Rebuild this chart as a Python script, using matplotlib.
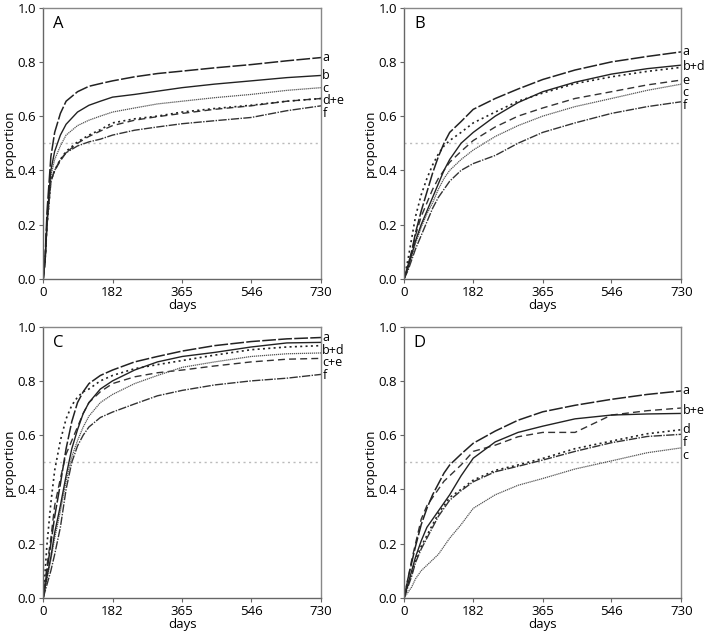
import numpy as np
import matplotlib
matplotlib.use("Agg")
import matplotlib.pyplot as plt

plt.rcParams['font.family'] = ['Open Sans', 'DejaVu Sans']

# sample days (shared by all panels)
days = [0, 5, 10, 20, 30, 45, 60, 90, 120, 150, 182, 240, 300, 365, 450, 546, 640, 730]
days_slow = [0, 10, 20, 30, 45, 60, 75, 90, 105, 120, 150, 182, 240, 300, 365, 450, 546, 640, 730]

# panel A
A_a = [0, 0.08, 0.25, 0.45, 0.54, 0.61, 0.655, 0.69, 0.71, 0.72, 0.73, 0.745, 0.757, 0.766, 0.778, 0.79, 0.804, 0.816]
A_b = [0, 0.07, 0.22, 0.40, 0.47, 0.53, 0.57, 0.615, 0.64, 0.655, 0.67, 0.68, 0.692, 0.705, 0.718, 0.73, 0.742, 0.75]
A_c = [0, 0.07, 0.21, 0.38, 0.44, 0.49, 0.53, 0.565, 0.585, 0.60, 0.615, 0.63, 0.645, 0.655, 0.668, 0.68, 0.695, 0.705]
A_d = [0, 0.07, 0.20, 0.36, 0.40, 0.44, 0.47, 0.505, 0.53, 0.55, 0.575, 0.59, 0.60, 0.615, 0.628, 0.64, 0.655, 0.665]
A_e = [0, 0.07, 0.20, 0.36, 0.40, 0.435, 0.465, 0.50, 0.525, 0.545, 0.565, 0.585, 0.598, 0.61, 0.625, 0.638, 0.655, 0.665]
A_f = [0, 0.07, 0.20, 0.36, 0.40, 0.44, 0.465, 0.49, 0.505, 0.515, 0.53, 0.548, 0.56, 0.572, 0.583, 0.595, 0.62, 0.638]

# panel B
B_a = [0, 0.05, 0.10, 0.17, 0.25, 0.32, 0.39, 0.45, 0.50, 0.54, 0.58, 0.625, 0.665, 0.70, 0.735, 0.77, 0.80, 0.82, 0.837]
B_b = [0, 0.04, 0.09, 0.14, 0.20, 0.25, 0.30, 0.35, 0.40, 0.44, 0.50, 0.54, 0.60, 0.65, 0.69, 0.725, 0.755, 0.775, 0.788]
B_c = [0, 0.04, 0.08, 0.13, 0.19, 0.24, 0.28, 0.33, 0.37, 0.40, 0.44, 0.475, 0.525, 0.565, 0.60, 0.635, 0.665, 0.695, 0.718]
B_d = [0, 0.07, 0.15, 0.23, 0.31, 0.37, 0.42, 0.46, 0.49, 0.51, 0.54, 0.575, 0.615, 0.655, 0.685, 0.72, 0.745, 0.765, 0.78]
B_e = [0, 0.05, 0.10, 0.16, 0.23, 0.28, 0.33, 0.37, 0.40, 0.43, 0.47, 0.51, 0.56, 0.60, 0.63, 0.665, 0.69, 0.715, 0.733]
B_f = [0, 0.03, 0.07, 0.11, 0.16, 0.21, 0.26, 0.30, 0.33, 0.36, 0.40, 0.425, 0.455, 0.50, 0.54, 0.575, 0.61, 0.635, 0.653]

# panel C
C_a = [0, 0.10, 0.20, 0.30, 0.42, 0.55, 0.65, 0.72, 0.76, 0.79, 0.82, 0.84, 0.87, 0.89, 0.91, 0.93, 0.945, 0.955, 0.96]
C_b = [0, 0.08, 0.15, 0.24, 0.34, 0.45, 0.55, 0.62, 0.68, 0.72, 0.77, 0.80, 0.84, 0.87, 0.89, 0.905, 0.925, 0.94, 0.942]
C_c = [0, 0.07, 0.14, 0.22, 0.32, 0.43, 0.52, 0.58, 0.63, 0.67, 0.72, 0.75, 0.79, 0.82, 0.85, 0.87, 0.89, 0.90, 0.903]
C_d = [0, 0.20, 0.35, 0.47, 0.58, 0.66, 0.71, 0.74, 0.76, 0.77, 0.80, 0.82, 0.845, 0.86, 0.875, 0.895, 0.915, 0.925, 0.93]
C_e = [0, 0.12, 0.22, 0.34, 0.44, 0.53, 0.58, 0.63, 0.68, 0.72, 0.76, 0.79, 0.815, 0.83, 0.84, 0.855, 0.87, 0.88, 0.883]
C_f = [0, 0.05, 0.10, 0.16, 0.26, 0.40, 0.50, 0.56, 0.60, 0.63, 0.665, 0.685, 0.715, 0.745, 0.765, 0.785, 0.80, 0.81, 0.824]

# panel D
D_a = [0, 0.07, 0.13, 0.19, 0.27, 0.33, 0.38, 0.42, 0.46, 0.49, 0.53, 0.57, 0.615, 0.655, 0.686, 0.71, 0.732, 0.75, 0.763]
D_b = [0, 0.05, 0.10, 0.15, 0.21, 0.26, 0.29, 0.32, 0.35, 0.38, 0.45, 0.515, 0.575, 0.61, 0.633, 0.66, 0.674, 0.678, 0.68]
D_c = [0, 0.02, 0.04, 0.07, 0.10, 0.12, 0.14, 0.16, 0.19, 0.22, 0.27, 0.33, 0.38, 0.415, 0.44, 0.475, 0.505, 0.535, 0.553]
D_d = [0, 0.05, 0.09, 0.14, 0.19, 0.23, 0.27, 0.31, 0.34, 0.37, 0.40, 0.434, 0.47, 0.49, 0.514, 0.55, 0.578, 0.605, 0.62]
D_e = [0, 0.07, 0.14, 0.20, 0.29, 0.34, 0.37, 0.40, 0.43, 0.45, 0.49, 0.54, 0.563, 0.594, 0.61, 0.61, 0.674, 0.69, 0.70]
D_f = [0, 0.04, 0.08, 0.13, 0.18, 0.22, 0.26, 0.30, 0.33, 0.36, 0.395, 0.428, 0.465, 0.485, 0.508, 0.54, 0.572, 0.595, 0.603]

xticks = [0, 182, 365, 546, 730]
yticks = [0.0, 0.2, 0.4, 0.6, 0.8, 1.0]

styles = {
    'a': dict(ls=(0, (9, 1.5)), lw=1.1, color='#222222'),
    'b': dict(ls='-', lw=1.0, color='#222222'),
    'c': dict(ls=(0, (1, 0.6)), lw=0.9, color='#555555'),
    'd': dict(ls=(0, (1.2, 2)), lw=1.2, color='#222222'),
    'e': dict(ls=(0, (5, 3)), lw=1.0, color='#333333'),
    'f': dict(ls=(0, (6, 1, 1, 1)), lw=1.0, color='#333333'),
}

panels = [
    ('A', days, {'a': A_a, 'b': A_b, 'c': A_c, 'd': A_d, 'e': A_e, 'f': A_f},
     [('a', 'a'), ('b', 'b'), ('c', 'c'), ('d+e', 'de'), ('f', 'f')]),
    ('B', days_slow, {'a': B_a, 'b': B_b, 'c': B_c, 'd': B_d, 'e': B_e, 'f': B_f},
     [('a', 'a'), ('b+d', 'bd'), ('e', 'e'), ('c', 'c'), ('f', 'f')]),
    ('C', days_slow, {'a': C_a, 'b': C_b, 'c': C_c, 'd': C_d, 'e': C_e, 'f': C_f},
     [('a', 'a'), ('b+d', 'bd'), ('c+e', 'ce'), ('f', 'f')]),
    ('D', days_slow, {'a': D_a, 'b': D_b, 'c': D_c, 'd': D_d, 'e': D_e, 'f': D_f},
     [('a', 'a'), ('b+e', 'be'), ('d', 'd'), ('f', 'f'), ('c', 'c')]),
]

fig = plt.figure(figsize=(7.09, 6.38), dpi=100)
boxes = [(0.061, 0.563, 0.392, 0.425), (0.570, 0.563, 0.391, 0.425),
         (0.061, 0.063, 0.392, 0.425), (0.570, 0.063, 0.391, 0.425)]
fs = 9.5

for (letter, x, curves, labels), box in zip(panels, boxes):
    ax = fig.add_axes(box)
    ax.axhline(0.5, color='#bbbbbb', ls=(0, (1.5, 2.5)), lw=1.0)
    for key in 'fedcba':
        ax.plot(x, curves[key], **styles[key])
    ax.set_xlim(0, 730)
    ax.set_ylim(0, 1.0)
    ax.set_xticks(xticks)
    ax.set_yticks(yticks)
    ax.set_yticklabels([f'{v:.1f}' for v in yticks])
    ax.tick_params(labelsize=fs, length=3, color='#666666', pad=2)
    for s in ax.spines.values():
        s.set_color('#888888')
        s.set_linewidth(1.0)
    ax.spines['left'].set_color('#666666')
    ax.spines['bottom'].set_color('#666666')
    ax.set_xlabel('days', fontsize=fs, labelpad=0)
    ax.set_ylabel('proportion', fontsize=fs, labelpad=1)
    ax.text(0.055, 0.94, letter, transform=ax.transAxes, fontsize=12, va='center', ha='center')

    # curve labels at the right edge, nudged apart so they do not collide
    ys = [np.mean([curves[k][-1] for k in keys]) for _, keys in labels]
    for i in range(1, len(ys)):
        ys[i] = min(ys[i], ys[i - 1] - 0.047)
    for (text, _), yv in zip(labels, ys):
        ax.text(733, yv, text, fontsize=9, va='center', ha='left', clip_on=False)

fig.savefig('out.png', dpi=100)
